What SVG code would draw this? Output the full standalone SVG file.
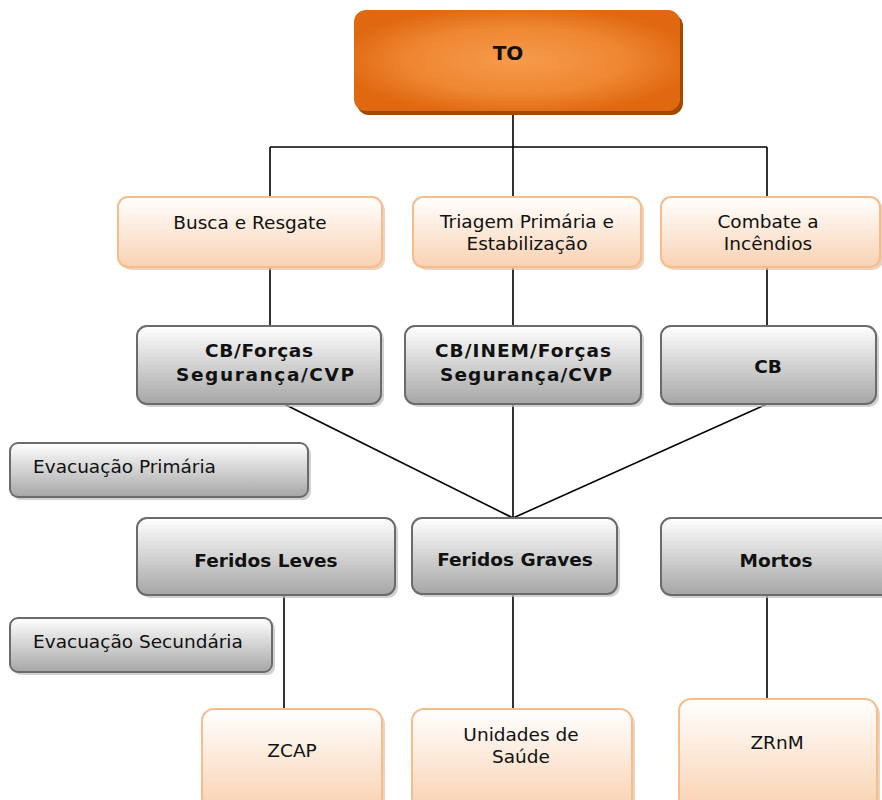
<svg xmlns="http://www.w3.org/2000/svg" width="882" height="800" viewBox="0 0 882 800">
<defs>
<radialGradient id="gOrange" cx="50%" cy="50%" r="55%">
<stop offset="0" stop-color="#F69C4C"/>
<stop offset="0.6" stop-color="#EE8632"/>
<stop offset="1" stop-color="#E06810"/>
</radialGradient>
<linearGradient id="gPeach" x1="0" y1="0" x2="0" y2="1">
<stop offset="0" stop-color="#FFFFFF"/>
<stop offset="1" stop-color="#F9D2B2"/>
</linearGradient>
<linearGradient id="gGray" x1="0" y1="0" x2="0" y2="1">
<stop offset="0" stop-color="#FFFFFF"/>
<stop offset="1" stop-color="#A6A6A6"/>
</linearGradient>
</defs>
<style>
.sh{fill:#BDBDBD;opacity:0.7}
.shp{fill:#E0C2A8;opacity:0.7}
.peach{fill:url(#gPeach);stroke:#F8BC8A;stroke-width:2}
.gray{fill:url(#gGray);stroke:#6B6B6B;stroke-width:2}
.t{font-family:"DejaVu Sans",Verdana,sans-serif;font-size:18.5px;fill:#111;text-anchor:middle}
.b{font-family:"DejaVu Sans",Verdana,sans-serif;font-size:18.5px;font-weight:bold;fill:#111;text-anchor:middle}
.l{font-family:"DejaVu Sans",Verdana,sans-serif;font-size:18.5px;fill:#111}
.c{stroke:#000;stroke-width:1.6;fill:none}
</style>
<g id="connectors">
<path class="c" d="M513 112V147M270 147H767M270 147V197M513 147V197M767 147V197"/>
<path class="c" d="M270 267V326M513 267V326M767 267V326"/>
<path class="c" d="M284 404L513 518M513 404V518M767 404L513 518"/>
<path class="c" d="M284 595V709M513 594V709M767 595V699"/>
</g>
<g id="TO">
<rect x="357" y="14" width="326" height="101" rx="12" fill="#A34800"/>
<rect x="354" y="10" width="326" height="101" rx="12" fill="url(#gOrange)"/>
<text class="b" x="508" y="60" style="font-size:20px">TO</text>
</g>
<g id="busca">
<rect class="shp" x="121" y="200" width="264" height="70" rx="10"/>
<rect class="peach" x="118" y="197" width="264" height="70" rx="10"/>
<text class="t" x="250" y="229">Busca e Resgate</text>
</g>
<g id="triagem">
<rect class="shp" x="416" y="200" width="228" height="70" rx="10"/>
<rect class="peach" x="413" y="197" width="228" height="70" rx="10"/>
<text class="t" x="527" y="228">Triagem Primária e</text>
<text class="t" x="527" y="250">Estabilização</text>
</g>
<g id="combate">
<rect class="shp" x="664" y="200" width="219" height="70" rx="10"/>
<rect class="peach" x="661" y="197" width="219" height="70" rx="10"/>
<text class="t" x="768" y="228">Combate a</text>
<text class="t" x="768" y="250">Incêndios</text>
</g>
<g id="cbforcas">
<rect class="sh" x="140" y="329" width="244" height="78" rx="10"/>
<rect class="gray" x="137" y="326" width="244" height="78" rx="10"/>
<text class="b" x="259" y="357" textLength="108" lengthAdjust="spacing">CB/Forças</text>
<text class="b" x="265" y="381" textLength="178" lengthAdjust="spacing">Segurança/CVP</text>
</g>
<g id="cbinem">
<rect class="sh" x="408" y="329" width="236" height="78" rx="10"/>
<rect class="gray" x="405" y="326" width="236" height="78" rx="10"/>
<text class="b" x="523" y="357" textLength="176" lengthAdjust="spacing">CB/INEM/Forças</text>
<text class="b" x="526" y="381" textLength="172" lengthAdjust="spacing">Segurança/CVP</text>
</g>
<g id="cb">
<rect class="sh" x="664" y="329" width="215" height="78" rx="10"/>
<rect class="gray" x="661" y="326" width="215" height="78" rx="10"/>
<text class="b" x="768" y="373">CB</text>
</g>
<g id="evacprim">
<rect class="sh" x="13" y="446" width="298" height="54" rx="8"/>
<rect class="gray" x="10" y="443" width="298" height="54" rx="8"/>
<text class="l" x="33" y="473">Evacuação Primária</text>
</g>
<g id="feridosleves">
<rect class="sh" x="140" y="521" width="258" height="77" rx="10"/>
<rect class="gray" x="137" y="518" width="258" height="77" rx="10"/>
<text class="b" x="266" y="567">Feridos Leves</text>
</g>
<g id="feridosgraves">
<rect class="sh" x="415" y="521" width="205" height="76" rx="10"/>
<rect class="gray" x="412" y="518" width="205" height="76" rx="10"/>
<text class="b" x="515" y="566">Feridos Graves</text>
</g>
<g id="mortos">
<rect class="sh" x="664" y="521" width="230" height="77" rx="10"/>
<rect class="gray" x="661" y="518" width="230" height="77" rx="10"/>
<text class="b" x="776" y="567">Mortos</text>
</g>
<g id="evacsec">
<rect class="sh" x="13" y="621" width="262" height="54" rx="8"/>
<rect class="gray" x="10" y="618" width="262" height="54" rx="8"/>
<text class="l" x="33" y="648">Evacuação Secundária</text>
</g>
<g id="zcap">
<rect class="shp" x="205" y="712" width="180" height="100" rx="12"/>
<rect class="peach" x="202" y="709" width="180" height="100" rx="12"/>
<text class="t" x="292" y="757">ZCAP</text>
</g>
<g id="unidades">
<rect class="shp" x="415" y="712" width="220" height="100" rx="12"/>
<rect class="peach" x="412" y="709" width="220" height="100" rx="12"/>
<text class="t" x="521" y="741">Unidades de</text>
<text class="t" x="521" y="763">Saúde</text>
</g>
<g id="zrnm">
<rect class="shp" x="682" y="702" width="198" height="110" rx="12"/>
<rect class="peach" x="679" y="699" width="198" height="110" rx="12"/>
<text class="t" x="777" y="749">ZRnM</text>
</g>
</svg>
